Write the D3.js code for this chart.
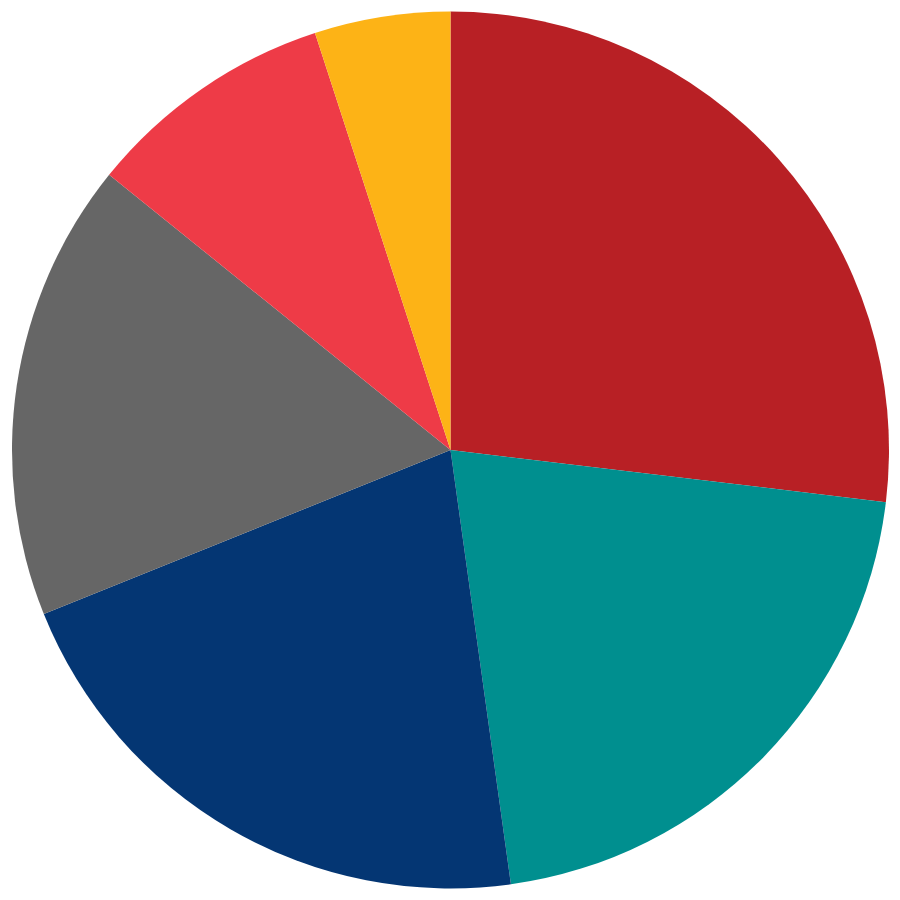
<!DOCTYPE html>
<html><head><meta charset="utf-8">
<script src="https://cdn.jsdelivr.net/npm/d3@7"></script>
<style>html,body{margin:0;padding:0;background:#fff;}svg{display:block;}</style>
</head><body>
<svg id="chart" width="900" height="900"></svg>
<script>
const categories = ["A", "B", "C", "D", "E", "F"];
const values = [26.9, 20.9, 21.1, 16.9, 9.2, 5.0];
const colors = ["#B82025", "#008F8F", "#043673", "#666666", "#EE3B47", "#FDB316"];

const svg = d3.select("#chart");
const cx = 450.5, cy = 450, r = 438.5;
const pie = d3.pie().sort(null).value(d => d.value);
const arc = d3.arc().innerRadius(0).outerRadius(r);
const data = categories.map((c, i) => ({ cat: c, value: values[i] }));
const color = d3.scaleOrdinal().domain(categories).range(colors);

svg.append("g").attr("transform", `translate(${cx},${cy})`)
  .selectAll("path").data(pie(data)).join("path")
  .attr("d", arc)
  .attr("fill", d => color(d.data.cat));
</script>
</body></html>
